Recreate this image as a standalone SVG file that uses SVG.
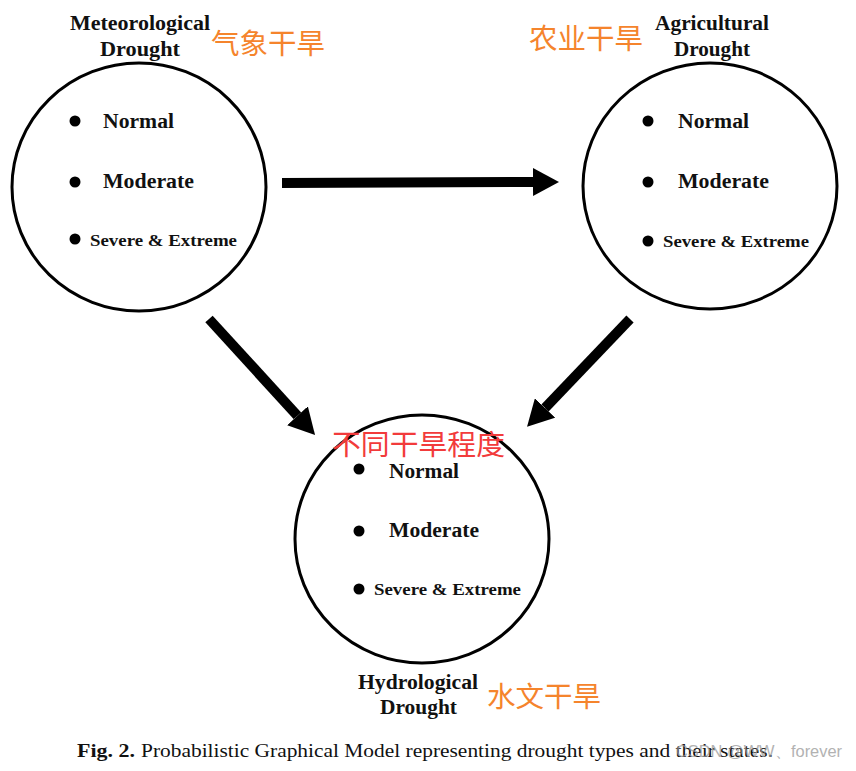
<svg xmlns="http://www.w3.org/2000/svg" width="856" height="771" viewBox="0 0 856 771">
<defs>
<style>
.node{fill:none;stroke:#000;stroke-width:3}
.dot{fill:#000}
.st{font-family:"Liberation Serif","Times New Roman",serif;font-weight:bold;fill:#111}
.st1{font-size:20px}
.st2{font-size:16.5px}
.ttl{font-family:"Liberation Serif","Times New Roman",serif;font-weight:bold;font-size:20px;fill:#111}
.cn{font-family:"Noto Sans CJK SC","Noto Sans",sans-serif;font-size:28.5px}
.or{fill:#F5842C}
.rd{fill:#F23B3B}
.cap{font-family:"Liberation Serif","Times New Roman",serif;font-size:18px;fill:#111}
.conn{stroke:#000;stroke-width:10;fill:none}
</style>
<marker id="ah" viewBox="0 0 26 28" refX="0" refY="14" markerWidth="26" markerHeight="28" markerUnits="userSpaceOnUse" orient="auto">
<path d="M0,0 L26,14 L0,28 Z" fill="#000"/>
</marker>
</defs>
<rect width="856" height="771" fill="#fff"/>

<g id="connectors">
<line class="conn" x1="282" y1="183" x2="533" y2="182" marker-end="url(#ah)"/>
<line class="conn" x1="209" y1="319" x2="297.5" y2="415.8" marker-end="url(#ah)"/>
<line class="conn" x1="630" y1="319" x2="545" y2="408" marker-end="url(#ah)"/>
</g>

<g id="meteorological">
<ellipse class="node" cx="139" cy="187" rx="127" ry="124"/>
<circle class="dot" cx="75" cy="121" r="5.5"/>
<circle class="dot" cx="75" cy="182" r="5.5"/>
<circle class="dot" cx="75" cy="239" r="5.5"/>
<text class="st st1" x="103" y="128" textLength="71" lengthAdjust="spacingAndGlyphs">Normal</text>
<text class="st st1" x="103" y="188" textLength="91" lengthAdjust="spacingAndGlyphs">Moderate</text>
<text class="st st2" x="90" y="246" textLength="147" lengthAdjust="spacingAndGlyphs">Severe &amp; Extreme</text>
<text class="ttl" x="70" y="30" textLength="140" lengthAdjust="spacingAndGlyphs">Meteorological</text>
<text class="ttl" x="100" y="56" textLength="80" lengthAdjust="spacingAndGlyphs">Drought</text>
<text class="cn or" x="211" y="54">气象干旱</text>
</g>

<g id="agricultural">
<ellipse class="node" cx="710" cy="186" rx="127" ry="123"/>
<circle class="dot" cx="648" cy="121" r="5.5"/>
<circle class="dot" cx="648" cy="182" r="5.5"/>
<circle class="dot" cx="648" cy="241" r="5.5"/>
<text class="st st1" x="678" y="128" textLength="71" lengthAdjust="spacingAndGlyphs">Normal</text>
<text class="st st1" x="678" y="188" textLength="91" lengthAdjust="spacingAndGlyphs">Moderate</text>
<text class="st st2" x="663" y="247" textLength="146" lengthAdjust="spacingAndGlyphs">Severe &amp; Extreme</text>
<text class="ttl" x="655" y="30" textLength="114" lengthAdjust="spacingAndGlyphs">Agricultural</text>
<text class="ttl" x="674" y="56" textLength="76" lengthAdjust="spacingAndGlyphs">Drought</text>
<text class="cn or" x="529" y="49">农业干旱</text>
</g>

<g id="hydrological">
<ellipse class="node" cx="422" cy="539" rx="127" ry="124"/>
<circle class="dot" cx="359" cy="469" r="5.5"/>
<circle class="dot" cx="359" cy="531" r="5.5"/>
<circle class="dot" cx="359" cy="589" r="5.5"/>
<text class="st st1" x="389" y="478" textLength="70" lengthAdjust="spacingAndGlyphs">Normal</text>
<text class="st st1" x="389" y="537" textLength="90" lengthAdjust="spacingAndGlyphs">Moderate</text>
<text class="st st2" x="374" y="595" textLength="147" lengthAdjust="spacingAndGlyphs">Severe &amp; Extreme</text>
<text class="ttl" x="358" y="689" textLength="120" lengthAdjust="spacingAndGlyphs">Hydrological</text>
<text class="ttl" x="380" y="714" textLength="77" lengthAdjust="spacingAndGlyphs">Drought</text>
<text class="cn or" x="487" y="707">水文干旱</text>
<text class="cn rd" x="332" y="455" textLength="173" lengthAdjust="spacingAndGlyphs">不同干旱程度</text>
</g>

<g id="caption">
<text class="cap" x="77" y="757" font-weight="bold" textLength="58" lengthAdjust="spacingAndGlyphs">Fig. 2.</text>
<text class="cap" x="141" y="757" textLength="632" lengthAdjust="spacingAndGlyphs">Probabilistic Graphical Model representing drought types and their states.</text>
<text x="676" y="757" font-family="Liberation Sans, Arial, sans-serif" font-size="16" fill="#999" opacity="0.75" textLength="166" lengthAdjust="spacingAndGlyphs">CSDN @WW、forever</text>
</g>
</svg>
